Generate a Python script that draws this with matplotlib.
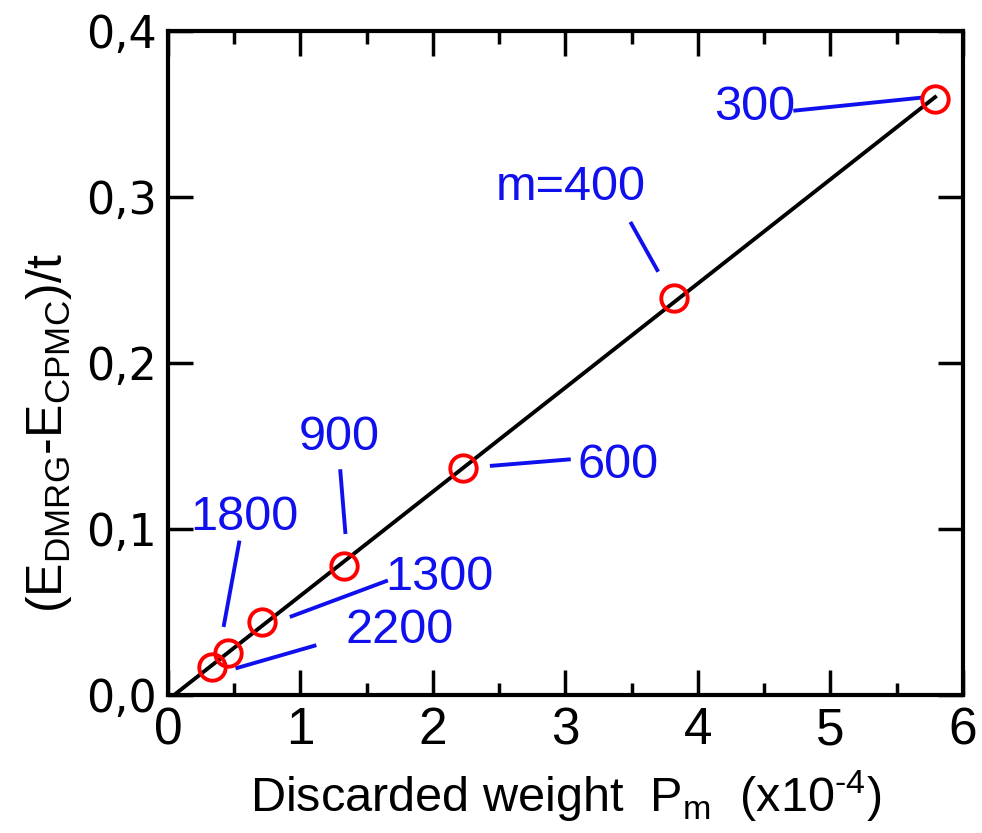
import numpy as np
import matplotlib
matplotlib.use("Agg")
import matplotlib.pyplot as plt
from matplotlib.ticker import FixedLocator, FixedFormatter, MultipleLocator

# data
weights = [5.79, 3.82, 2.23, 1.33, 0.71, 0.45, 0.33]   # discarded weight (x1e-4)
energy_diff = [0.359, 0.239, 0.137, 0.078, 0.044, 0.025, 0.017]
m_labels = ["300", "m=400", "600", "900", "1300", "1800", "2200"]

# label text positions and leader line ends (data units)
label_xy = [(4.43, 0.354), (3.04, 0.306), (3.4, 0.138), (1.29, 0.155), (2.05, 0.071), (0.58, 0.107), (1.75, 0.039)]
leader_from = [(4.72, 0.352), (3.49, 0.285), (2.43, 0.138), (1.30, 0.136), (0.92, 0.047), (0.54, 0.093), (0.51, 0.016)]
leader_to = [(5.70, 0.360), (3.70, 0.255), (3.04, 0.142), (1.34, 0.097), (1.66, 0.069), (0.42, 0.041), (1.12, 0.030)]

xticks = [0, 1, 2, 3, 4, 5, 6]
xtick_labels = ["0", "1", "2", "3", "4", "5", "6"]
yticks = [0.0, 0.1, 0.2, 0.3, 0.4]
ytick_labels = ["0,0", "0,1", "0,2", "0,3", "0,4"]

plt.rcParams["font.family"] = ["Liberation Sans", "DejaVu Sans"]
plt.rcParams["mathtext.fontset"] = "custom"
plt.rcParams["mathtext.rm"] = "Liberation Sans"
plt.rcParams["mathtext.it"] = "Liberation Sans"

fig = plt.figure(figsize=(9.82, 8.33), dpi=100)
ax = fig.add_axes([0.171, 0.1657, 0.8096, 0.797])

# linear fit through the points
slope, icpt = np.polyfit(weights, energy_diff, 1)
x0 = -icpt / slope
xfit = np.array([x0, max(weights)])
ax.plot(xfit, slope * xfit + icpt, color="black", lw=2.8, zorder=2)

ax.plot(weights, energy_diff, "o", ms=19, mfc="none", mec="red", mew=2.8, zorder=3)

for lab, (tx, ty), (ax0, ay0), (ax1, ay1) in zip(m_labels, label_xy, leader_from, leader_to):
    ax.text(tx, ty, lab, color="#1010ee", fontsize=35, ha="center", va="center")
    ax.plot([ax0, ax1], [ay0, ay1], color="#1010ee", lw=2.8, solid_capstyle="butt")

ax.set_xlim(0, 6)
ax.set_ylim(0, 0.4)
ax.xaxis.set_major_locator(FixedLocator(xticks))
ax.xaxis.set_major_formatter(FixedFormatter(xtick_labels))
ax.xaxis.set_minor_locator(MultipleLocator(0.5))
ax.yaxis.set_major_locator(FixedLocator(yticks))
ax.yaxis.set_major_formatter(FixedFormatter(ytick_labels))

ax.tick_params(which="both", direction="in", top=True, right=True, width=2.5)
ax.tick_params(which="major", length=18)
ax.tick_params(which="minor", length=9)
ax.tick_params(axis="x", labelsize=37, pad=8)
ax.tick_params(axis="y", labelsize=32, pad=8)
for lbl in ax.get_yticklabels():
    lbl.set_family("DejaVu Sans")
for sp in ax.spines.values():
    sp.set_linewidth(3)

ax.set_xlabel(r"Discarded weight  $\mathregular{P_m}$  (x10$^{\mathregular{\text{-}4}}$)", fontsize=35, labelpad=10)
ax.set_ylabel(r"$\mathregular{(E_{DMRG}}$-$\mathregular{E_{CPMC})/t}$", fontsize=36)
ax.yaxis.set_label_coords(-0.118, 0.395)

fig.savefig("out.png", dpi=100)
